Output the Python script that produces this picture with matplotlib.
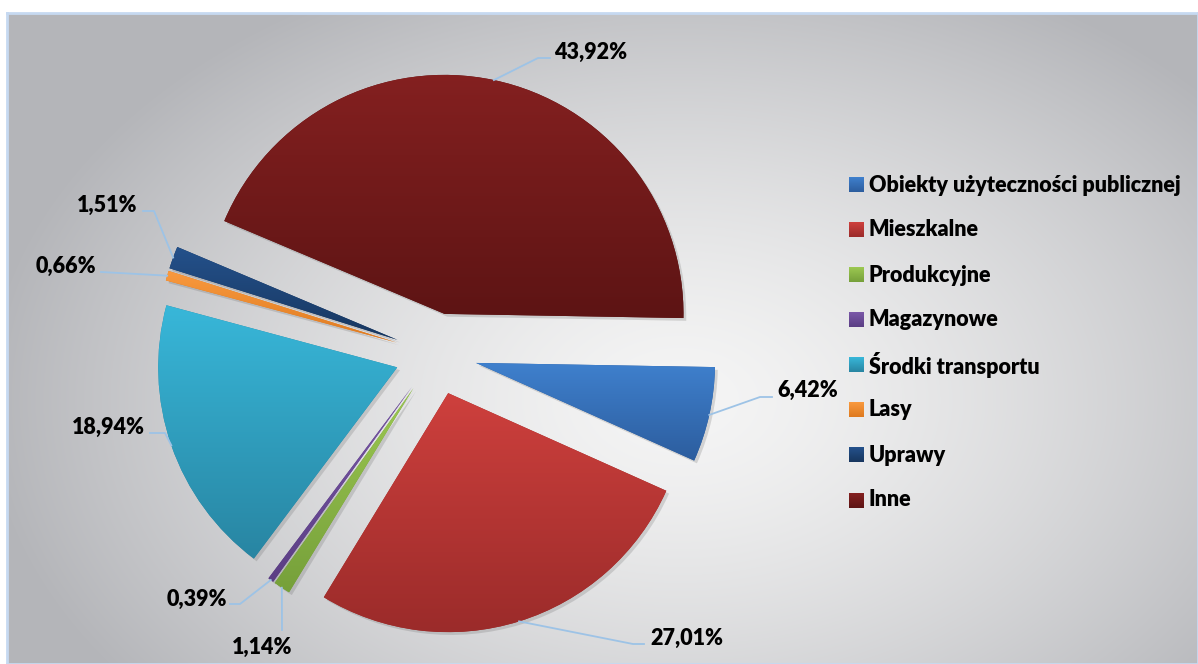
import numpy as np
import matplotlib.pyplot as plt
import matplotlib.patheffects as pe
from matplotlib.colors import to_rgb

categories = ['Obiekty użyteczności publicznej', 'Mieszkalne', 'Produkcyjne',
              'Magazynowe', 'Środki transportu', 'Lasy', 'Uprawy', 'Inne']
shares = [6.42, 27.01, 1.14, 0.39, 18.94, 0.66, 1.51, 43.92]
pct_labels = ['6,42%', '27,01%', '1,14%', '0,39%', '18,94%', '0,66%', '1,51%', '43,92%']
colors_top = ['#3f80cd', '#ce403d', '#9cc852', '#7a58a8', '#38b7d9', '#f9993e', '#24518b', '#842020']
colors_bottom = ['#2c5d9e', '#9b2b2a', '#76a03a', '#5b3e84', '#2885a2', '#de7a20', '#17365f', '#5d1414']

# layout in image pixels (x, y from top): text anchor, alignment, elbow, line end
label_layout = [
    ((777, 390), 'left', (760, 397), (772, 397)),
    ((650, 638), 'left', (633, 644), (644, 644)),
    ((262, 647), 'center', (282, 630), (282, 630)),
    ((227, 599), 'right', (240, 604), (230, 604)),
    ((145, 427), 'right', (165, 433), (150, 433)),
    ((96, 266), 'right', (101, 272), (101, 272)),
    ((137, 205), 'right', (154, 211), (143, 211)),
    ((554, 52), 'left', (538, 58), (550, 58)),
]

W, H = 1198, 664
R = 239            # pie radius, px
CX, CY = 436, 354  # pie centre, px from top-left
FONT = ['Lato', 'DejaVu Sans']


def to_data(x, y):
    return (x - CX) / R, (CY - y) / R


def vgrad(top, bottom, n=256):
    t = np.linspace(0, 1, n)[:, None, None]
    return (1 - t) * np.array(to_rgb(top)) + t * np.array(to_rgb(bottom))


fig = plt.figure(figsize=(W / 100, H / 100), dpi=100)

# grey radial background of the chart area
fx0, fy0 = 7, 13
ax_bg = fig.add_axes([fx0 / W, 0, (W - fx0) / W, (H - fy0) / H])
yy, xx = np.mgrid[fy0:H, fx0:W]
d = np.sqrt(((xx - 680) / 700.0) ** 2 + ((yy - 400) / 470.0) ** 2)
t = np.clip(d, 0, 1) ** 1.4
light, dark = np.array(to_rgb('#f5f5f5')), np.array(to_rgb('#b4b5b9'))
bg = (1 - t)[..., None] * light + t[..., None] * dark
ax_bg.imshow(bg, aspect='auto', interpolation='bilinear')
ax_bg.set_xticks([])
ax_bg.set_yticks([])
for s in ax_bg.spines.values():
    s.set_color('#c6d9f1')
    s.set_linewidth(2)

ax = fig.add_axes([0, 0, 1, 1])
ax.patch.set_alpha(0)

wedges, _ = ax.pie(shares, startangle=-1, counterclock=False, radius=1,
                   explode=[41 / R] * len(shares), colors=colors_bottom,
                   wedgeprops=dict(linewidth=0))

for w, ctop, cbot in zip(wedges, colors_top, colors_bottom):
    w.set_path_effects([pe.SimplePatchShadow(offset=(2, -2), shadow_rgbFace='#555555', alpha=0.2),
                        pe.Normal()])
    ext = w.get_path().get_extents()
    im = ax.imshow(vgrad(ctop, cbot), extent=(ext.x0, ext.x1, ext.y0, ext.y1),
                   aspect='auto', interpolation='bilinear', zorder=w.get_zorder() + 0.1)
    im.set_clip_path(w)

# data labels with leader lines
for w, txt, (pos, ha, elbow, end) in zip(wedges, pct_labels, label_layout):
    mid = np.deg2rad((w.theta1 + w.theta2) / 2)
    ax_, ay_ = w.center[0] + np.cos(mid), w.center[1] + np.sin(mid)
    ex, ey = to_data(*elbow)
    lx, ly = to_data(*end)
    ax.plot([ax_, ex, lx], [ay_, ey, ly], color='#9dc3e6', lw=1.3, zorder=5)
    tx, ty = to_data(*pos)
    ax.text(tx, ty, txt, ha=ha, va='center', fontsize=15.5, fontweight='heavy',
            family=FONT, color='black', zorder=6)

# legend
for i, (name, ctop, cbot) in enumerate(zip(categories, colors_top, colors_bottom)):
    yc = 185 + 45 * i
    x0, y0 = to_data(849, yc + 7.5)
    x1, y1 = to_data(864, yc - 7.5)
    ax.imshow(vgrad(ctop, cbot, 32), extent=(x0, x1, y0, y1), aspect='auto', zorder=6)
    tx, ty = to_data(869, yc)
    ax.text(tx, ty, name, ha='left', va='center', fontsize=15.5, fontweight='heavy',
            family=FONT, color='black', zorder=6)

x_lo, y_hi = to_data(0, 0)
x_hi, y_lo = to_data(W, H)
ax.set_xlim(x_lo, x_hi)
ax.set_ylim(y_lo, y_hi)
ax.set_aspect('auto')
ax.axis('off')

fig.savefig('out.png', dpi=100)
